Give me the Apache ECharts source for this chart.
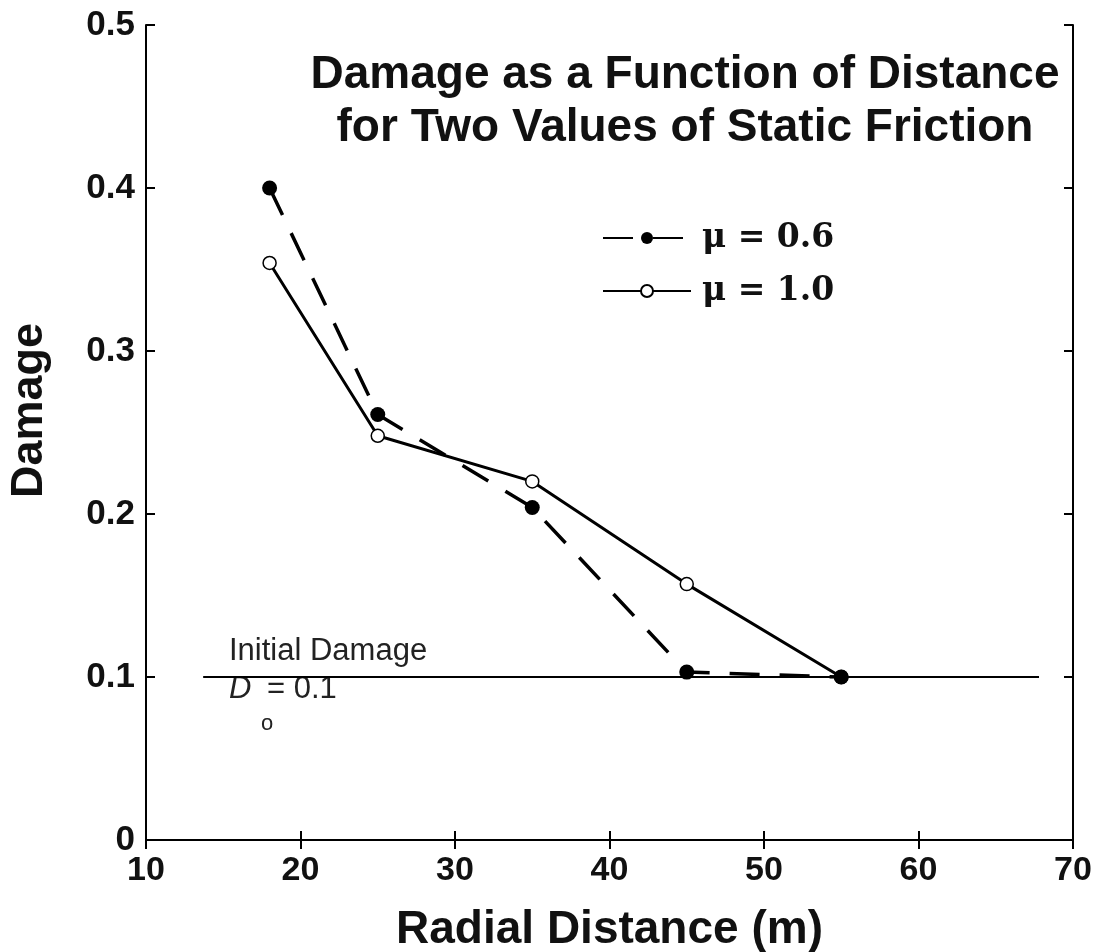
<!DOCTYPE html>
<html>
<head>
<meta charset="utf-8">
<script src="https://cdn.jsdelivr.net/npm/echarts@6/dist/echarts.min.js"></script>
<style>
  html, body { margin: 0; padding: 0; background: #fff; }
  #damage-chart { width: 1096px; height: 952px; }
</style>
</head>
<body>
<div id="damage-chart"></div>
<script>
// radial distance (m)
const distance = [18, 25, 35, 45, 55]
// damage for mu = 0.6 and mu = 1.0
const damageMu06 = [0.400, 0.261, 0.204, 0.103, 0.100]
const damageMu10 = [0.354, 0.248, 0.220, 0.157, 0.100]
// initial damage reference line
const initialX = [13.7, 67.8]
const initialY = [0.1, 0.1]

const xTicks = { min: 10, max: 70, interval: 10 }
const yTicks = { min: 0, max: 0.5, interval: 0.1 }

const sans = '"Liberation Sans", Arial, sans-serif'
const serif = '"DejaVu Serif", "Liberation Serif", serif'

const chart = echarts.init(document.getElementById('damage-chart'))

const tickStyle = { inside: true, length: 9, lineStyle: { color: '#000', width: 2 } }
const axisLine = { lineStyle: { color: '#000', width: 2 } }

const option = {
  animation: false,
  backgroundColor: '#fff',
  grid: { left: 146, right: 23, top: 25, bottom: 112, outerBoundsMode: 'none', containLabel: false },
  title: {
    text: 'Damage as a Function of Distance\nfor Two Values of Static Friction',
    left: 680,
    top: 44,
    textAlign: 'center',
    textStyle: {
      fontFamily: sans, fontWeight: 'bold', fontSize: 46, lineHeight: 53, color: '#111'
    }
  },
  legend: {
    left: 597,
    top: 215,
    orient: 'vertical',
    itemWidth: 88,
    itemHeight: 15,
    itemGap: 17,
    data: ['μ = 0.6', 'μ = 1.0'],
    textStyle: {
      fontFamily: serif, fontWeight: 'bold', fontSize: 33, lineHeight: 36, color: '#111',
      padding: [0, 0, 0, 6]
    }
  },
  xAxis: [
    {
      type: 'value', ...xTicks,
      name: 'Radial Distance (m)', nameLocation: 'middle', nameGap: 67,
      nameTextStyle: { fontFamily: sans, fontWeight: 'bold', fontSize: 46, color: '#111' },
      axisLine, axisTick: tickStyle, splitLine: { show: false },
      axisLabel: { fontFamily: sans, fontWeight: 'bold', fontSize: 34, color: '#111', margin: 14 }
    },
    {
      type: 'value', ...xTicks, position: 'top',
      axisLine, axisTick: tickStyle, splitLine: { show: false },
      axisLabel: { show: false }
    }
  ],
  yAxis: [
    {
      type: 'value', ...yTicks,
      name: 'Damage', nameLocation: 'middle', nameGap: 94, nameRotate: 90,
      nameTextStyle: {
        fontFamily: sans, fontWeight: 'bold', fontSize: 45, color: '#111',
        padding: [0, 0, 0, 44]
      },
      axisLine, axisTick: tickStyle, splitLine: { show: false },
      axisLabel: {
        fontFamily: sans, fontWeight: 'bold', fontSize: 35, color: '#111', margin: 11,
        formatter: v => (v === 0 ? '0' : v.toFixed(1))
      }
    },
    {
      type: 'value', ...yTicks, position: 'right',
      axisLine, axisTick: tickStyle, splitLine: { show: false },
      axisLabel: { show: false }
    }
  ],
  series: [
    {
      name: 'Initial Damage',
      type: 'line',
      data: initialX.map((x, i) => [x, initialY[i]]),
      symbol: 'none',
      lineStyle: { color: '#000', width: 2 },
      z: 1
    },
    {
      name: 'μ = 0.6',
      type: 'line',
      data: distance.map((x, i) => [x, damageMu06[i]]),
      symbol: 'circle',
      symbolSize: 15,
      itemStyle: { color: '#000' },
      lineStyle: { color: '#000', width: 3.5, type: [30, 20] },
      z: 3
    },
    {
      name: 'μ = 1.0',
      type: 'line',
      data: distance.map((x, i) => [x, damageMu10[i]]),
      symbol: 'circle',
      symbolSize: 13,
      itemStyle: { color: '#fff', borderColor: '#000', borderWidth: 1.5 },
      lineStyle: { color: '#000', width: 3 },
      z: 2
    }
  ],
  graphic: [
    {
      type: 'text', x: 229, y: 651,
      style: { text: 'Initial Damage', fontFamily: sans, fontSize: 31, fill: '#222', verticalAlign: 'middle' }
    },
    {
      type: 'text', x: 229, y: 689,
      style: { text: 'D', fontFamily: sans, fontStyle: 'italic', fontSize: 31, fill: '#222', verticalAlign: 'middle' }
    },
    {
      type: 'text', x: 261, y: 724,
      style: { text: 'o', fontFamily: sans, fontSize: 22, fill: '#222', verticalAlign: 'middle' }
    },
    {
      type: 'text', x: 267, y: 689,
      style: { text: '= 0.1', fontFamily: sans, fontSize: 31, fill: '#222', verticalAlign: 'middle' }
    }
  ]
}

chart.setOption(option)
</script>
</body>
</html>
